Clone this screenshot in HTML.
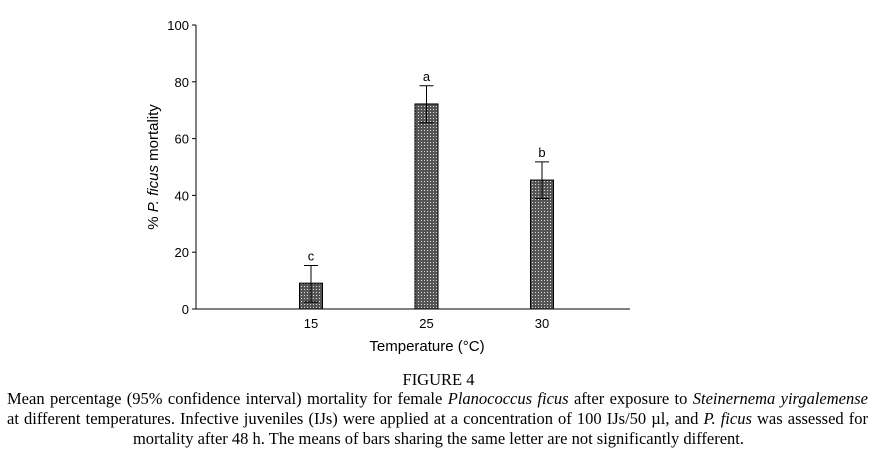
<!DOCTYPE html>
<html><head><meta charset="utf-8"><style>
body{margin:0;width:877px;height:451px;background:#fff;overflow:hidden;position:relative}
svg{position:absolute;left:0;top:0}
.cap{position:absolute;font-family:"Liberation Serif",serif;font-size:16.5px;color:#000;line-height:20px;white-space:nowrap}
.just{left:7px;width:861px;text-align:justify;text-align-last:justify}
</style></head><body>
<svg id="chart" width="877" height="365" font-family="Liberation Sans, sans-serif">
<defs><pattern id="dots" width="3" height="3" patternUnits="userSpaceOnUse"><rect width="3" height="3" fill="#555"/><rect x="1" y="1" width="1" height="1" fill="#ddd"/></pattern></defs>
</svg>
<div class="cap" style="left:0;width:877px;text-align:center;top:370px">FIGURE 4</div>
<div class="cap just" style="top:389px">Mean percentage (95% confidence interval) mortality for female <i>Planococcus ficus</i> after exposure to <i>Steinernema yirgalemense</i></div>
<div class="cap just" style="top:409px">at different temperatures. Infective juveniles (IJs) were applied at a concentration of 100 IJs/50 µl, and <i>P. ficus</i> was assessed for</div>
<div class="cap" style="left:0;width:877px;text-align:center;top:429px">mortality after 48 h. The means of bars sharing the same letter are not significantly different.</div>
<script>
const categories=["15","25","30"];
const means=[9.1,72.2,45.4];
const upper=[15.3,78.6,51.8];
const lower=[2.4,65.6,38.9];
const letters=["c","a","b"];
const yTicks=[0,20,40,60,80,100];
const svg=document.getElementById('chart');
const NS='http://www.w3.org/2000/svg';
const x0=196,x1=630,yB=309,yT=25;
const y=v=>yB-(v/100)*(yB-yT);
const xPos=i=>311+i*115.5;
function mk(t,a,txt){const e=document.createElementNS(NS,t);for(const k in a)e.setAttribute(k,a[k]);if(txt!==undefined)e.textContent=txt;svg.appendChild(e);return e;}
let e;
e=mk('line',{x1:x0,y1:yT,x2:x0,y2:yB,stroke:'#000','stroke-width':1});


e=mk('line',{x1:x0,y1:yB,x2:x1,y2:yB,stroke:'#000','stroke-width':1});


yTicks.forEach(t=>{
 e=mk('line',{x1:x0-4,y1:y(t),x2:x0,y2:y(t),stroke:'#000'});
 
 
 e=mk('text',{x:x0-7,y:y(t)+5,'text-anchor':'end','font-size':13},t);
 
 
});
categories.forEach((c,i)=>{
 const cx=xPos(i),w=23;
 e=mk('rect',{x:cx-w/2,y:y(means[i]),width:w,height:yB-y(means[i]),fill:'url(#dots)',stroke:'#000','stroke-width':1});
 
 
 e=mk('path',{d:`M${cx},${y(upper[i])}V${y(lower[i])}M${cx-7},${y(upper[i])}H${cx+7}M${cx-7},${y(lower[i])}H${cx+7}`,stroke:'#000',fill:'none'});
 
 
 e=mk('text',{x:cx,y:y(upper[i])-5,'text-anchor':'middle','font-size':13},letters[i]);
 
 
 e=mk('text',{x:cx,y:yB+19,'text-anchor':'middle','font-size':13},c);
 
 
});
e=mk('text',{x:427,y:351,'text-anchor':'middle','font-size':15},'Temperature (°C)');


e=mk('text',{transform:'translate(158,167) rotate(-90)','text-anchor':'middle','font-size':15});
e.innerHTML='% <tspan font-style="italic">P. ficus</tspan> mortality';


</script>
</body></html>
